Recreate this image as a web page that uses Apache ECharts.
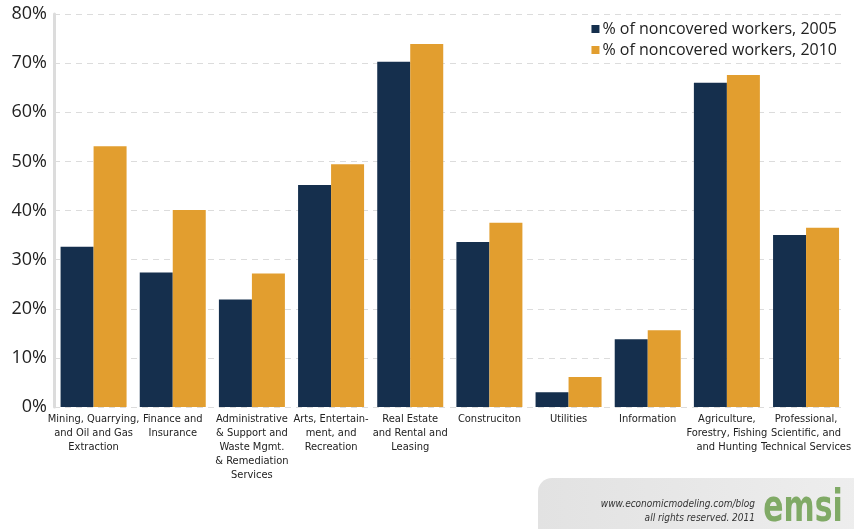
<!DOCTYPE html>
<html>
<head>
<meta charset="utf-8">
<script src="https://cdn.jsdelivr.net/npm/echarts@6/dist/echarts.min.js"></script>
<style>
html,body{margin:0;padding:0;background:#fff;}
#main{width:854px;height:529px;}
</style>
</head>
<body>
<div id="main"></div>
<script>
const categories = [
  "Mining, Quarrying,\nand Oil and Gas\nExtraction",
  "Finance and\nInsurance",
  "Administrative\n& Support and\nWaste Mgmt.\n& Remediation\nServices",
  "Arts, Entertain-\nment, and\nRecreation",
  "Real Estate\nand Rental and\nLeasing",
  "Construciton",
  "Utilities",
  "Information",
  "Agriculture,\nForestry, Fishing\nand Hunting",
  "Professional,\nScientific, and\nTechnical Services"
];
const series2005Name = "% of noncovered workers, 2005";
const series2010Name = "% of noncovered workers, 2010";
const values2005 = [32.6, 27.4, 21.9, 45.2, 70.3, 33.6, 3.0, 13.8, 66.0, 35.0];
const values2010 = [53.1, 40.1, 27.2, 49.4, 73.9, 37.5, 6.1, 15.6, 67.6, 36.5];
const yTicks = [0, 10, 20, 30, 40, 50, 60, 70, 80];

const condensed = '"DejaVu Sans Condensed", "Liberation Sans Narrow", sans-serif';

const chart = echarts.init(document.getElementById('main'));
chart.setOption({
  backgroundColor: '#ffffff',
  animation: false,
  grid: { left: 54, right: 6, top: 14, bottom: 122, containLabel: false },
  legend: {
    orient: 'vertical',
    right: 12,
    top: 16,
    itemWidth: 8,
    itemHeight: 8,
    itemGap: 5,
    icon: 'rect',
    textStyle: { fontFamily: 'Open Sans, Noto Sans, sans-serif', fontSize: 16, color: '#222', padding: [0, 0, 0, -2] },
    data: [series2005Name, series2010Name]
  },
  xAxis: {
    type: 'category',
    data: categories,
    axisLine: { show: false },
    axisTick: { show: false },
    axisLabel: {
      interval: 0,
      margin: 5,
      fontFamily: condensed,
      fontSize: 11,
      lineHeight: 14,
      color: '#222',
      align: 'center'
    }
  },
  yAxis: {
    type: 'value',
    min: 0,
    max: 80,
    interval: 10,
    axisLine: { show: true, lineStyle: { color: '#dcdcdc', width: 3 } },
    axisTick: { show: false },
    splitLine: { show: true, lineStyle: { color: '#dcdcdc', type: [6, 5], width: 1 } },
    axisLabel: {
      margin: 7,
      fontFamily: 'Open Sans, Noto Sans, sans-serif',
      fontSize: 18,
      color: '#222',
      formatter: function (v) { return yTicks.indexOf(v) >= 0 ? v + '%' : ''; }
    }
  },
  series: [
    {
      name: series2005Name,
      type: 'bar',
      data: values2005,
      barWidth: 33,
      barGap: '0%',
      itemStyle: { color: '#152f4d' }
    },
    {
      name: series2010Name,
      type: 'bar',
      data: values2010,
      barWidth: 33,
      itemStyle: { color: '#e29e2f' }
    }
  ],
  graphic: [
    {
      type: 'rect',
      shape: { x: 538, y: 478, width: 330, height: 60, r: [14, 0, 0, 0] },
      style: {
        fill: new echarts.graphic.LinearGradient(0, 0, 1, 0, [
          { offset: 0, color: '#e2e2e2' },
          { offset: 1, color: '#eeeeee' }
        ])
      },
      z: 10
    },
    {
      type: 'text',
      style: {
        x: 755, y: 504,
        text: 'www.economicmodeling.com/blog',
        align: 'right', verticalAlign: 'middle',
        font: 'oblique 10px "DejaVu Sans Condensed", sans-serif',
        fill: '#333'
      },
      z: 11
    },
    {
      type: 'text',
      style: {
        x: 755, y: 518,
        text: 'all rights reserved. 2011',
        align: 'right', verticalAlign: 'middle',
        font: 'oblique 10px "DejaVu Sans Condensed", sans-serif',
        fill: '#333'
      },
      z: 11
    },
    {
      type: 'text',
      x: 803, y: 510,
      scaleX: 0.68,
      style: {
        x: 0, y: 0,
        text: 'emsi',
        align: 'center', verticalAlign: 'middle',
        font: 'bold 44px "DejaVu Sans", sans-serif',
        fill: '#80aa66'
      },
      z: 11
    }
  ]
});
</script>
</body>
</html>
